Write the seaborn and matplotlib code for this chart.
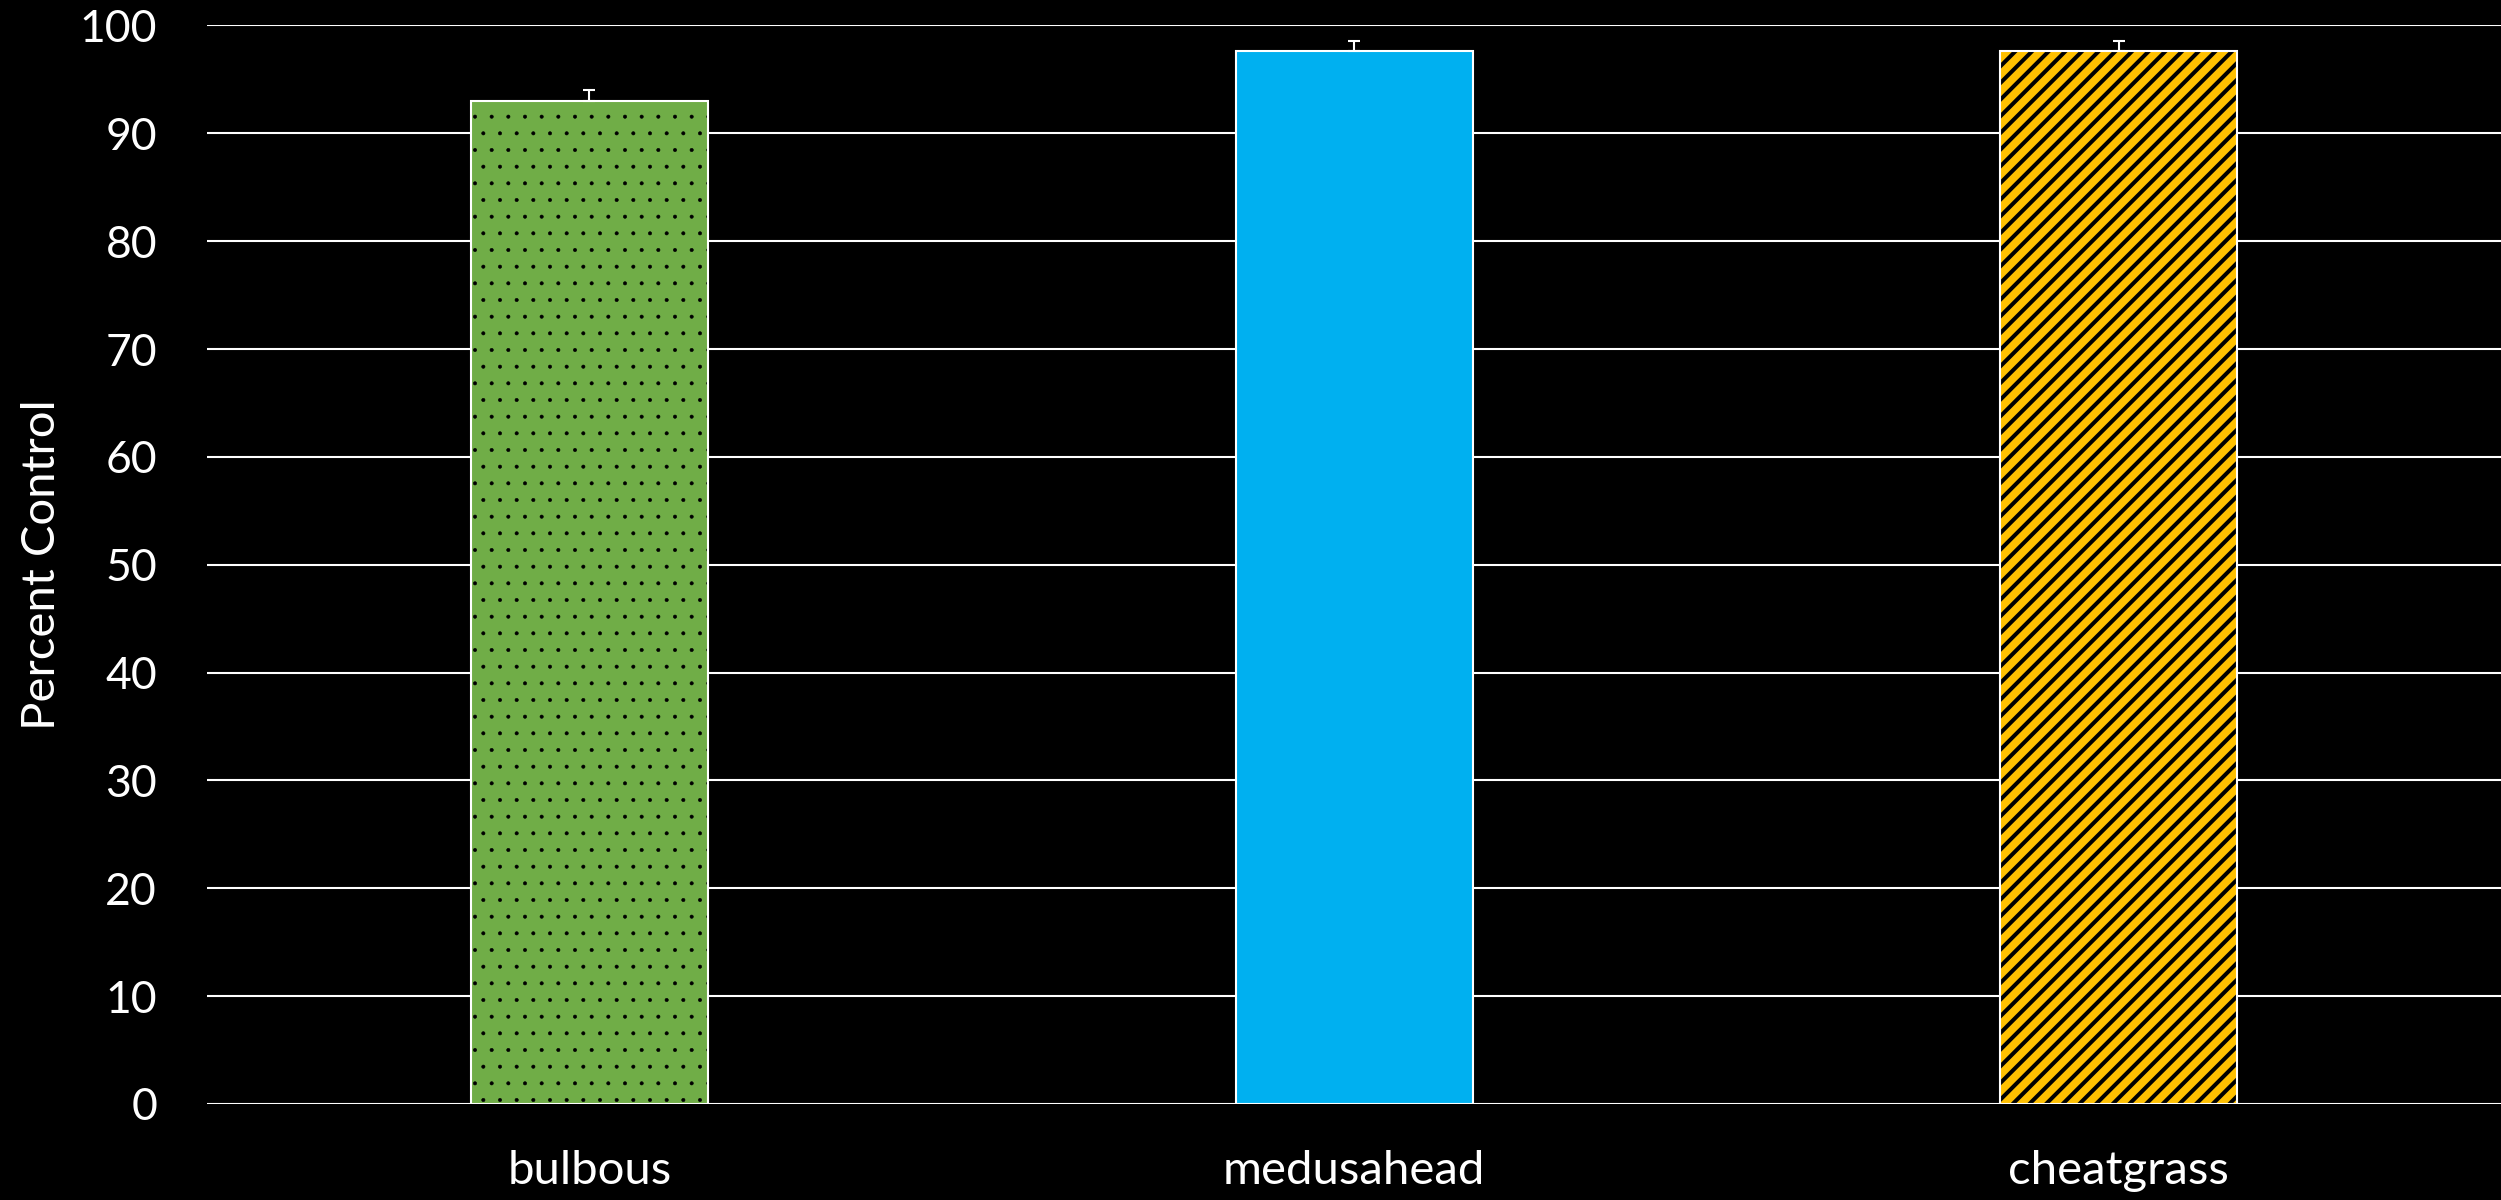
import numpy as np
import pandas as pd
import seaborn as sns
import matplotlib.pyplot as plt

# data
species = ["bulbous", "medusahead", "cheatgrass"]
percent_control = [93.0, 97.6, 97.6]
err_plus = [1.0, 1.0, 1.0]
bar_colors = ["#70AD47", "#00B0F0", "#FFC000"]
hatches = [".", "", "//"]
y_ticks = [0, 10, 20, 30, 40, 50, 60, 70, 80, 90, 100]

sns.set_style("dark", {"axes.facecolor": "black", "figure.facecolor": "black"})
plt.rcParams["font.family"] = ["Lato", "DejaVu Sans"]
plt.rcParams["hatch.linewidth"] = 1.0

df = pd.DataFrame({"species": species, "pct": percent_control})

fig = plt.figure(figsize=(25.01, 12), dpi=100)
fig.patch.set_facecolor("black")
ax = fig.add_axes([0.0828, 0.08, 1 - 0.0828, 0.8988])
ax.set_facecolor("black")

sns.barplot(data=df, x="species", y="pct", hue="species", palette=bar_colors,
            width=0.31, edgecolor="white", linewidth=1.5, legend=False,
            saturation=1, ax=ax, zorder=3)

# patterns: black hatch inside, white outline
for p, h in zip(ax.patches, hatches):
    if not h:
        continue
    p.set_hatch(h)
    p._hatch_color = (0, 0, 0, 1)
    lw = 2.9 if "/" in h else 0.4
    try:
        p.set_hatch_linewidth(lw)
    except AttributeError:
        p._hatch_linewidth = lw

# plus-only error bars
x_pos = np.arange(len(species))
ax.errorbar(x_pos, percent_control, yerr=[[0] * len(species), err_plus],
            fmt="none", ecolor="white", elinewidth=1.5, capsize=4, capthick=1.5,
            zorder=4)

ax.set_xlim(-0.5, 2.5)
ax.set_ylim(0, 100)
ax.set_yticks(y_ticks)
ax.yaxis.grid(True, color="white", linewidth=1.5, zorder=0)
ax.xaxis.grid(False)
ax.set_axisbelow(True)
for s in ax.spines.values():
    s.set_visible(False)

ax.tick_params(axis="y", colors="white", labelsize=32, length=0, pad=36)
ax.tick_params(axis="x", colors="white", labelsize=34, length=0, pad=33)
ax.set_xlabel("")
ax.set_ylabel("Percent Control", color="white", fontsize=34)
ax.yaxis.set_label_coords(-0.063, 0.5)

fig.savefig("out.png", dpi=100, facecolor="black")
